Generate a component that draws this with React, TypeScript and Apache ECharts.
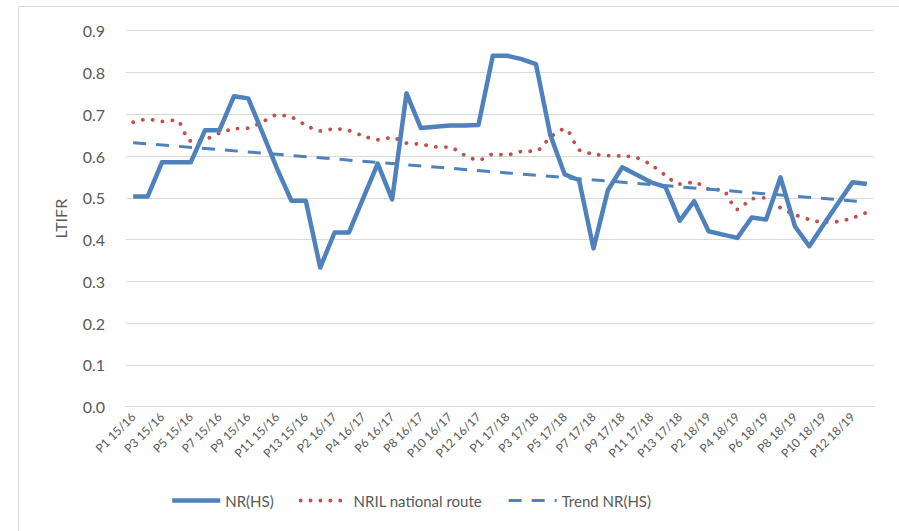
import React, { useEffect, useRef } from "react";
import * as echarts from "echarts";

const years = ["15/16", "16/17", "17/18", "18/19"];
const periods = ["P1", "P2", "P3", "P4", "P5", "P6", "P7", "P8", "P9", "P10", "P11", "P12", "P13"];
const categories: string[] = [];
years.forEach((y) => periods.forEach((p) => categories.push(`${p} ${y}`)));

const nrHS = [
  0.503, 0.503, 0.585, 0.585, 0.585, 0.662, 0.662, 0.743, 0.738, 0.655,
  0.57, 0.493, 0.493, 0.333, 0.417, 0.417, 0.5, 0.582, 0.496, 0.75,
  0.667, 0.67, 0.673, 0.673, 0.674, 0.84, 0.84, 0.832, 0.82, 0.65,
  0.556, 0.542, 0.379, 0.518, 0.573, 0.555, 0.537, 0.526, 0.445, 0.492,
  0.42, 0.412, 0.404, 0.453, 0.448, 0.549, 0.432, 0.384, 0.436, 0.487,
  0.537, 0.533,
];

const nrilNational = [
  0.681, 0.688, 0.683, 0.686, 0.636, 0.64, 0.655, 0.665, 0.667, 0.682,
  0.698, 0.693, 0.674, 0.66, 0.665, 0.661, 0.648, 0.639, 0.644, 0.631,
  0.628, 0.622, 0.621, 0.603, 0.59, 0.604, 0.603, 0.611, 0.612, 0.645,
  0.665, 0.615, 0.605, 0.601, 0.6, 0.596, 0.579, 0.554, 0.533, 0.537,
  0.521, 0.518, 0.472, 0.497, 0.5, 0.476, 0.46, 0.448, 0.442, 0.443,
  0.452, 0.465,
];

// Trend line endpoints (first and last period)
const trendStart = 0.632;
const trendEnd = 0.49;

const yTicks = { min: 0, max: 0.9, interval: 0.1 };

const FONT = "Lato, 'Open Sans', sans-serif";
const TEXT = "#595959";
const GRID = "#D9D9D9";
const BLUE = "#4F81BD";
const RED = "#C0504D";

export default function App() {
  const ref = useRef<HTMLDivElement>(null);
  useEffect(() => {
    document.body.style.margin = "0";
    if (!ref.current) return;
    const chart = echarts.init(ref.current, undefined, { renderer: "svg" });
    chart.setOption({
      animation: false,
      backgroundColor: "#ffffff",
      textStyle: { fontFamily: FONT },
      graphic: [
        {
          type: "rect",
          silent: true,
          shape: { x: 18.5, y: 6.5, width: 1000, height: 1000 },
          style: { fill: "none", stroke: GRID, lineWidth: 1 },
        },
      ],
      grid: { left: 126, right: 25, top: 30.7, bottom: 124.3, containLabel: false },
      legend: {
        left: 165,
        top: 488,
        itemWidth: 48,
        itemHeight: 14,
        itemGap: 25,
        itemStyle: { opacity: 0 },
        textStyle: { color: TEXT, fontSize: 15, fontFamily: FONT },
        data: [
          { name: "NR(HS)", lineStyle: { width: 4.5 } },
          { name: "NRIL national route", lineStyle: { width: 3.8 } },
          { name: "Trend NR(HS)", lineStyle: { width: 3 } },
        ],
      },
      xAxis: {
        type: "category",
        data: categories,
        boundaryGap: true,
        axisLine: { show: true, lineStyle: { color: GRID, width: 1 } },
        axisTick: { show: false },
        axisLabel: {
          interval: 1,
          rotate: 45,
          color: TEXT,
          fontSize: 12,
          fontFamily: FONT,
          margin: 8,
        },
      },
      yAxis: {
        type: "value",
        min: yTicks.min,
        max: yTicks.max,
        interval: yTicks.interval,
        name: "LTIFR",
        nameLocation: "middle",
        nameGap: 58,
        nameTextStyle: { color: TEXT, fontSize: 16, fontFamily: FONT },
        axisLine: { show: false },
        axisTick: { show: false },
        axisLabel: {
          color: TEXT,
          fontSize: 16,
          fontFamily: FONT,
          margin: 21,
          formatter: (v: number) => v.toFixed(1),
        },
        splitLine: { show: true, lineStyle: { color: GRID, width: 1 } },
      },
      series: [
        {
          name: "NR(HS)",
          type: "line",
          data: nrHS,
          symbol: "none",
          lineStyle: { color: BLUE, width: 4.5, join: "round" },
          itemStyle: { color: BLUE },
          z: 3,
        },
        {
          name: "NRIL national route",
          type: "line",
          data: nrilNational,
          symbol: "none",
          smooth: 0.3,
          lineStyle: { color: RED, width: 3.8, type: [0.1, 9.8], cap: "round" },
          itemStyle: { color: RED },
          z: 2,
        },
        {
          name: "Trend NR(HS)",
          type: "line",
          data: [
            [categories[0], trendStart],
            [categories[categories.length - 1], trendEnd],
          ],
          symbol: "none",
          lineStyle: { color: BLUE, width: 3, type: [13, 10] },
          itemStyle: { color: BLUE },
          z: 2,
        },
      ],
    });
    return () => chart.dispose();
  }, []);
  return <div ref={ref} style={{ width: 899, height: 531 }} />;
}
